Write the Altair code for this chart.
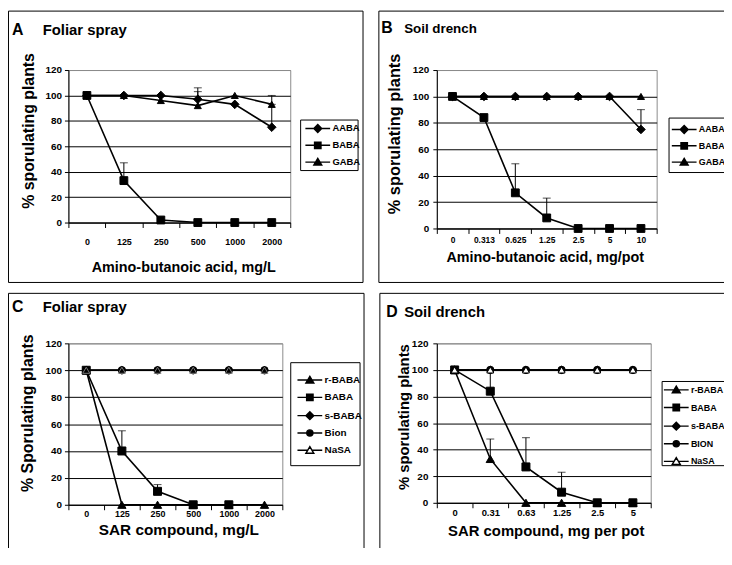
import altair as alt
import pandas as pd

FONT = "Liberation Sans"

# ---------------- Panel A : Foliar spray, amino-butanoic acids ----------------
A_doses = ["0", "125", "250", "500", "1000", "2000"]
A_names = ["AABA", "BABA", "GABA"]
A_AABA = [100, 100, 100, 97, 93, 75]
A_BABA = [100, 33, 2, 0, 0, 0]
A_GABA = [100, 100, 96, 92, 100, 93]
A_AABA_err = [None, None, None, 106, None, 93]
A_BABA_err = [None, 47, None, None, None, None]
A_GABA_err = [None, None, None, 103, None, 100]

# ---------------- Panel B : Soil drench, amino-butanoic acids ----------------
B_doses = ["0", "0.313", "0.625", "1.25", "2.5", "5", "10"]
B_names = ["AABA", "BABA", "GABA"]
B_AABA = [100, 100, 100, 100, 100, 100, 75]
B_BABA = [100, 84, 27, 8, 0, 0, 0]
B_GABA = [100, 100, 100, 100, 100, 100, 100]
B_AABA_err = [None, None, None, None, None, None, 90]
B_BABA_err = [None, None, 49, 23, None, None, None]
B_GABA_err = [None, None, None, None, None, None, None]

# ---------------- Panel C : Foliar spray, SAR compounds ----------------
C_doses = ["0", "125", "250", "500", "1000", "2000"]
C_names = ["r-BABA", "BABA", "s-BABA", "Bion", "NaSA"]
C_rBABA = [100, 0, 0, 0, 0, 0]
C_BABA = [100, 40, 10, 0, 0, None]
C_sBABA = [100, 100, 100, 100, 100, 100]
C_Bion = [100, 100, 100, 100, 100, 100]
C_NaSA = [100, 100, 100, 100, 100, 100]
C_rBABA_err = [None, None, None, None, None, None]
C_BABA_err = [None, 55, 15, None, None, None]
C_none_err = [None, None, None, None, None, None]

# ---------------- Panel D : Soil drench, SAR compounds ----------------
D_doses = ["0", "0.31", "0.63", "1.25", "2.5", "5"]
D_names = ["r-BABA", "BABA", "s-BABA", "BION", "NaSA"]
D_rBABA = [100, 33, 0, 0, 0, 0]
D_BABA = [100, 84, 27, 8, 0, 0]
D_sBABA = [100, 100, 100, 100, 100, 100]
D_BION = [100, 100, 100, 100, 100, 100]
D_NaSA = [100, 100, 100, 100, 100, 100]
D_rBABA_err = [None, 48, None, None, None, None]
D_BABA_err = [None, 100, 49, 23, None, None]
D_none_err = [None, None, None, None, None, None]

# marker styles
PLOT_SHAPE = {"diamond": "diamond", "square": "square", "tri": "triangle-up",
              "circle": "circle", "otri": "triangle-up", "gtri": "triangle-up"}
PLOT_SIZE = {"diamond": 75, "square": 50, "tri": 70, "circle": 45, "otri": 75, "gtri": 75}
FILL = {"diamond": "black", "square": "black", "tri": "black", "circle": "black",
        "otri": "white", "gtri": "transparent"}
STROKE = {"diamond": "black", "square": "black", "tri": "black", "circle": "black",
          "otri": "black", "gtri": "#7a7a7a"}
# legend symbols: line segment with the marker (unit = 5 px at symbolSize 100)
LEG_PATH = {
    "diamond": "M-2.5,0H2.5M0,-0.8L0.8,0L0,0.8L-0.8,0Z",
    "square": "M-2.5,0H2.5M-0.65,-0.65H0.65V0.65H-0.65Z",
    "tri": "M-2.5,0H2.5M0,-0.75L0.8,0.6H-0.8Z",
    "circle": "M-2.5,0H2.5M0.62,0A0.62,0.62,0,1,1,-0.62,0A0.62,0.62,0,1,1,0.62,0Z",
    "otri": "M-2.5,0H-0.5M0.5,0H2.5M0,-0.75L0.8,0.6H-0.8Z",
    "gtri": "M-2.5,0H-0.5M0.5,0H2.5M0,-0.75L0.8,0.6H-0.8Z",
}
LEG_FILL = {"diamond": "black", "square": "black", "tri": "black", "circle": "black",
            "otri": "white", "gtri": "white"}

ONE = alt.Data(values=[{"k": 1}])


def box(x1, x2, y1, y2):
    return alt.Chart(ONE).mark_rect(fillOpacity=0, stroke="black", strokeWidth=1).encode(
        x=alt.value(x1), x2=alt.value(x2), y=alt.value(y1), y2=alt.value(y2))


def panel(doses, names, values, errs, kinds, P):
    rows, erows = [], []
    for name, vals, es in zip(names, values, errs):
        for i, (d, v, e) in enumerate(zip(doses, vals, es)):
            if v is None:
                continue
            rows.append({"dose": d, "idx": i, "series": name, "value": v})
            if e is not None:
                erows.append({"dose": d, "series": name, "value": v, "err": e})
    df = pd.DataFrame(rows)
    edf = pd.DataFrame(erows)

    xscale = alt.Scale(type="band", domain=doses, paddingInner=0, paddingOuter=0)
    xaxis = alt.Axis(labelAngle=0, tickBand="extent", tickSize=5, tickWidth=1, tickColor="black",
                     domainColor="black", domainWidth=1, grid=False,
                     labelFont=FONT, labelFontSize=P["xlab_fs"], labelFontWeight="bold",
                     labelColor="black", labelPadding=P["xlab_pad"],
                     titleFont=FONT, titleFontSize=P["xt_fs"], titleFontWeight="bold",
                     titleColor="black", titleX=P["xt_x"], titleY=P["xt_y"],
                     titleAlign="center", titleBaseline="middle")
    yscale = alt.Scale(domain=[0, 120], nice=False)
    yaxis = alt.Axis(values=[0, 20, 40, 60, 80, 100, 120], tickSize=4, tickWidth=1, tickColor="black",
                     domainColor="black", domainWidth=1, grid=True,
                     gridColor={"condition": {"test": "datum.value >= 120", "value": "#8c8c8c"},
                                "value": "black"},
                     gridWidth=1,
                     labelFont=FONT, labelFontSize=P["ylab_fs"], labelFontWeight="bold",
                     labelColor="black", labelPadding=P["ylab_pad"],
                     titleFont=FONT, titleFontSize=P["yt_fs"], titleFontWeight="bold",
                     titleColor="black", titleX=P["yt_x"], titleY=P["yt_y"], titleAngle=270,
                     titleAlign="center", titleBaseline="middle")

    def X():
        return alt.X("dose:N", scale=xscale, axis=xaxis, bandPosition=0.5, title=P["xtitle"])

    def Y(field):
        return alt.Y(field + ":Q", scale=yscale, axis=yaxis, title=P["ytitle"])

    border = box(*P["border"])
    legbox = box(*P["legbox"])

    letter = alt.Chart(ONE).mark_text(text=P["letter"], align="left", baseline="alphabetic", font=FONT,
                                      fontWeight="bold", fontSize=P["letter_fs"], color="black").encode(
        x=alt.value(P["letter_x"]), y=alt.value(P["head_y"]))
    head = alt.Chart(ONE).mark_text(text=P["head"], align="left", baseline="alphabetic", font=FONT,
                                    fontWeight="bold", fontSize=P["head_fs"], color="black").encode(
        x=alt.value(P["head_x"]), y=alt.value(P["head_y"]))

    shapes = [PLOT_SHAPE[k] for k in kinds]
    fills = [FILL[k] for k in kinds]
    strokes = [STROKE[k] for k in kinds]
    sizes = [PLOT_SIZE[k] for k in kinds]
    lpaths = [LEG_PATH[k] for k in kinds]
    lfills = [LEG_FILL[k] for k in kinds]

    rule = alt.Chart(edf).mark_rule(color="black", strokeWidth=1).encode(
        x=X(), y=Y("value"), y2="err:Q")
    cap = alt.Chart(edf).mark_tick(color="black", thickness=1, size=8).encode(
        x=X(), y=Y("err"))
    line = alt.Chart(df).mark_line(color="black", strokeWidth=1.6).encode(
        x=X(), y=Y("value"), detail="series:N", order=alt.Order("idx:Q"))
    pts = alt.Chart(df).mark_point(filled=True, strokeWidth=1, opacity=1).encode(
        x=X(), y=Y("value"),
        shape=alt.Shape("series:N", scale=alt.Scale(domain=names, range=shapes), legend=None),
        fill=alt.Fill("series:N", scale=alt.Scale(domain=names, range=fills), legend=None),
        stroke=alt.Stroke("series:N", scale=alt.Scale(domain=names, range=strokes), legend=None),
        size=alt.Size("series:N", scale=alt.Scale(domain=names, range=sizes), legend=None),
    )

    legend = alt.Legend(title=None, orient="none", legendX=P["leg_x"], legendY=P["leg_y"],
                        padding=0,
                        labelFont=FONT, labelFontSize=P["leg_fs"], labelFontWeight="bold",
                        labelColor="black", labelOffset=8.8, rowPadding=P["leg_rp"],
                        symbolSize=100, symbolOffset=6.8, symbolStrokeWidth=1.4,
                        symbolOpacity=1)
    legdf = pd.DataFrame({"series": names})
    leg = alt.Chart(legdf).mark_point(filled=True, opacity=0).encode(
        shape=alt.Shape("series:N", scale=alt.Scale(domain=names, range=lpaths), legend=legend),
        fill=alt.Fill("series:N", scale=alt.Scale(domain=names, range=lfills), legend=legend),
        stroke=alt.Stroke("series:N", scale=alt.Scale(domain=names, range=["black"] * len(names)),
                          legend=legend),
    )

    return alt.layer(border, legbox, letter, head, rule, cap, line, pts, leg).resolve_scale(
        shape="independent", fill="independent", size="independent", stroke="independent"
    ).properties(width=P["w"], height=P["h"])


PA = dict(w=224, h=154, xtitle="Amino-butanoic acid, mg/L", ytitle="% sporulating  plants",
          xlab_fs=9, xlab_pad=10, xt_fs=14.5, xt_x=116, xt_y=45,
          ylab_fs=10, ylab_pad=3, yt_fs=16, yt_x=-40, yt_y=61,
          border=(-60.5, 297.5, -59.5, 214.5), legbox=(234.5, 292.5, 50.5, 101.5),
          letter="A", letter_fs=16, letter_x=-57, head="Foliar spray", head_fs=15, head_x=-26, head_y=-35,
          leg_x=239, leg_y=53, leg_fs=9.5, leg_rp=3)
PB = dict(w=222, h=160, xtitle="Amino-butanoic acid, mg/pot", ytitle="% sporulating plants",
          xlab_fs=8.5, xlab_pad=2, xt_fs=14.5, xt_x=109, xt_y=29,
          ylab_fs=10, ylab_pad=4, yt_fs=16.5, yt_x=-43, yt_y=64,
          border=(-58.5, 360, -59.5, 214.5), legbox=(234.5, 300, 48.5, 103.5),
          letter="B", letter_fs=16, letter_x=-56, head="Soil drench", head_fs=13.5, head_x=-33, head_y=-37,
          leg_x=237, leg_y=54, leg_fs=9, leg_rp=2.5)
PC = dict(w=216, h=163, xtitle="SAR compound, mg/L", ytitle="% Sporulating plants",
          xlab_fs=9, xlab_pad=0, xt_fs=15.5, xt_x=111, xt_y=25,
          ylab_fs=10, ylab_pad=3, yt_fs=16, yt_x=-41, yt_y=70,
          border=(-60.5, 298.5, -50.5, 260), legbox=(224.5, 294.5, 19.5, 123.5),
          letter="C", letter_fs=16, letter_x=-57, head="Foliar spray", head_fs=15, head_x=-26, head_y=-32,
          leg_x=231, leg_y=31, leg_fs=10, leg_rp=4.5)
PD = dict(w=216, h=161, xtitle="SAR compound, mg per pot", ytitle="% sporulating plants",
          xlab_fs=9.5, xlab_pad=0, xt_fs=15, xt_x=110, xt_y=28,
          ylab_fs=10, ylab_pad=5, yt_fs=15, yt_x=-34, yt_y=74,
          border=(-57.5, 360, -50.5, 260), legbox=(227.5, 300, 38.5, 123.5),
          letter="D", letter_fs=16, letter_x=-51, head="Soil drench", head_fs=15, head_x=-33, head_y=-27,
          leg_x=229, leg_y=41, leg_fs=9, leg_rp=4.8)

pa = panel(A_doses, A_names, [A_AABA, A_BABA, A_GABA], [A_AABA_err, A_BABA_err, A_GABA_err],
           ["diamond", "square", "tri"], PA)
pb = panel(B_doses, B_names, [B_AABA, B_BABA, B_GABA], [B_AABA_err, B_BABA_err, B_GABA_err],
           ["diamond", "square", "tri"], PB)
pc = panel(C_doses, C_names, [C_rBABA, C_BABA, C_sBABA, C_Bion, C_NaSA],
           [C_rBABA_err, C_BABA_err, C_none_err, C_none_err, C_none_err],
           ["tri", "square", "diamond", "circle", "gtri"], PC)
pd_ = panel(D_doses, D_names, [D_rBABA, D_BABA, D_sBABA, D_BION, D_NaSA],
            [D_rBABA_err, D_BABA_err, D_none_err, D_none_err, D_none_err],
            ["tri", "square", "diamond", "circle", "otri"], PD)

chart = alt.concat(pa, pb, pc, pd_, columns=2, spacing={"row": 116, "column": 148},
                   bounds="flush", align="each").properties(
    autosize=alt.AutoSizeParams(type="none"),
    padding={"left": 61, "top": 60, "right": 662, "bottom": 480},
).configure(font=FONT).configure_view(stroke="#8c8c8c", strokeWidth=1)

chart.save("out.html", embed_options={"renderer": "svg", "actions": False})
